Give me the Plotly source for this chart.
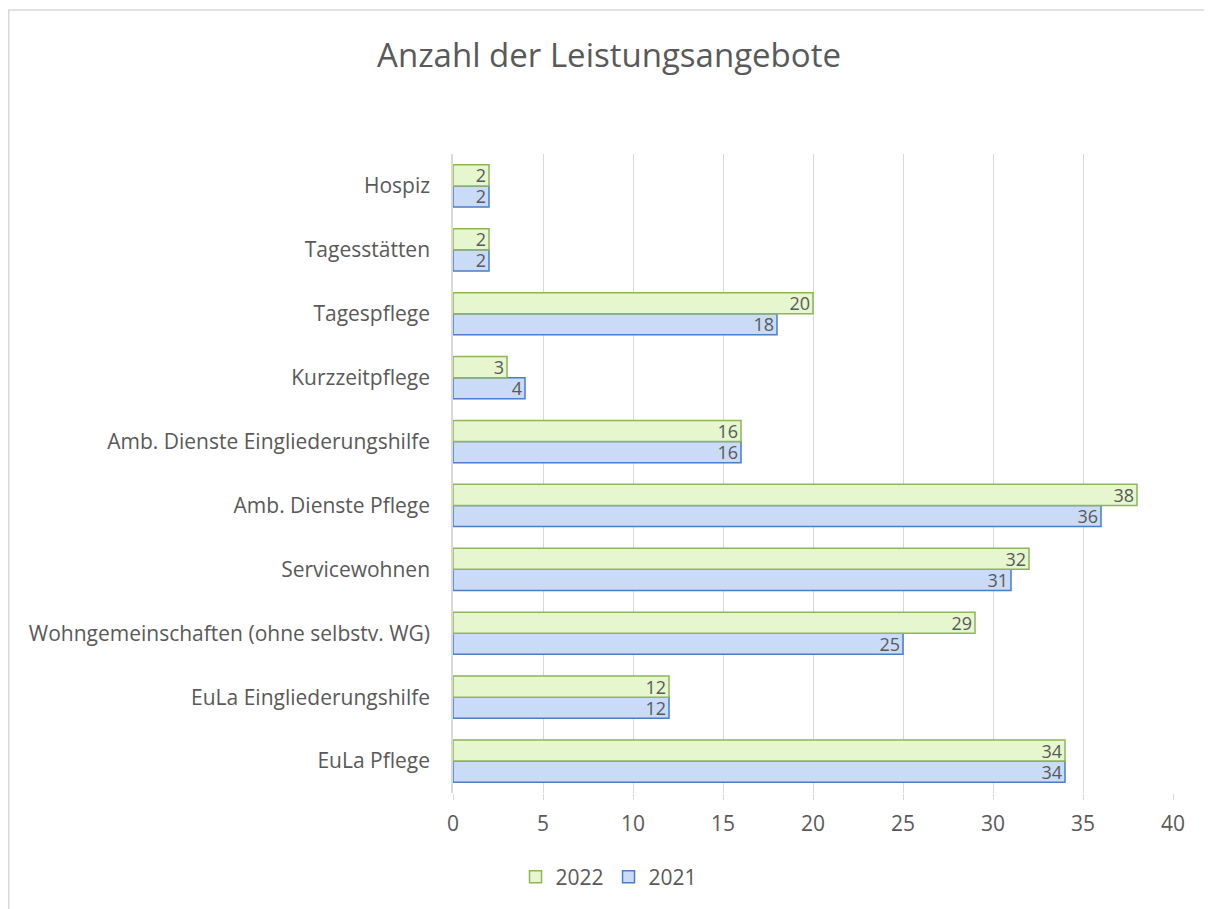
import plotly.graph_objects as go

categories = ["EuLa Pflege", "EuLa Eingliederungshilfe", "Wohngemeinschaften (ohne selbstv. WG)",
              "Servicewohnen", "Amb. Dienste Pflege", "Amb. Dienste Eingliederungshilfe",
              "Kurzzeitpflege", "Tagespflege", "Tagesstätten", "Hospiz"]
values_2021 = [34, 12, 25, 31, 36, 16, 4, 18, 2, 2]
values_2022 = [34, 12, 29, 32, 38, 16, 3, 20, 2, 2]
x_ticks = [0, 5, 10, 15, 20, 25, 30, 35, 40]

FONT = "Open Sans"
GRAY = "#595959"
FS = 21
BFS = 18
W, H = 1204, 901
L, R, T, B = 445, 39, 146, 116
PW, PH = W - L - R, H - T - B

fig = go.Figure()
fig.add_trace(go.Bar(
    y=categories, x=values_2021, orientation="h", name="2021",
    marker=dict(color="#c9dbf7", line=dict(color="#4a7ec8", width=1.5)),
    text=values_2021, textposition="inside", insidetextanchor="end", textangle=0,
    textfont=dict(family=FONT, size=BFS, color=GRAY), cliponaxis=False,
))
fig.add_trace(go.Bar(
    y=categories, x=values_2022, orientation="h", name="2022",
    marker=dict(color="#e6f7cf", line=dict(color="#8fb557", width=1.5)),
    text=values_2022, textposition="inside", insidetextanchor="end", textangle=0,
    textfont=dict(family=FONT, size=BFS, color=GRAY), cliponaxis=False,
))

fig.update_layout(
    width=W, height=H,
    paper_bgcolor="white", plot_bgcolor="white",
    margin=dict(l=L, r=R, t=T, b=B),
    barmode="group", bargap=0.34, bargroupgap=0,
    uniformtext=dict(minsize=BFS - 2, mode="show"),
    font=dict(family=FONT, color=GRAY, size=FS),
    title=dict(text="Anzahl der Leistungsangebote", x=(609 - 8) / W, xref="container",
               xanchor="center", y=1 - 47 / H, yanchor="middle",
               font=dict(family=FONT, size=33, color=GRAY)),
    legend=dict(orientation="h", x=(609 - 8) / W, xref="container", xanchor="center",
                y=1 - 869 / H, yref="container", yanchor="middle",
                traceorder="reversed", font=dict(size=FS, color=GRAY)),
    showlegend=True,
)
fig.update_xaxes(range=[0, 40], tickvals=x_ticks, showgrid=True, gridcolor="#d9d9d9",
                 gridwidth=1, zeroline=False, showline=False, ticks="outside",
                 ticklen=6, tickcolor="#d9d9d9", ticklabelstandoff=6,
                 tickfont=dict(size=FS, color=GRAY))
fig.update_yaxes(type="category", categoryorder="array", categoryarray=categories,
                 showline=True, linecolor="#d9d9d9", linewidth=1.5, showgrid=False,
                 ticks="", ticklabelstandoff=17, tickfont=dict(size=FS, color=GRAY))

# outer chart frame
fig.add_shape(type="rect", xref="paper", yref="paper",
              x0=(0.75 - L) / PW, x1=(W + 20 - L) / PW,
              y0=(PH + T - (H + 20)) / PH, y1=(PH + T - 2) / PH,
              line=dict(color="#d9d9d9", width=1.5), fillcolor="rgba(0,0,0,0)", layer="below")

fig.write_html("out.html")
